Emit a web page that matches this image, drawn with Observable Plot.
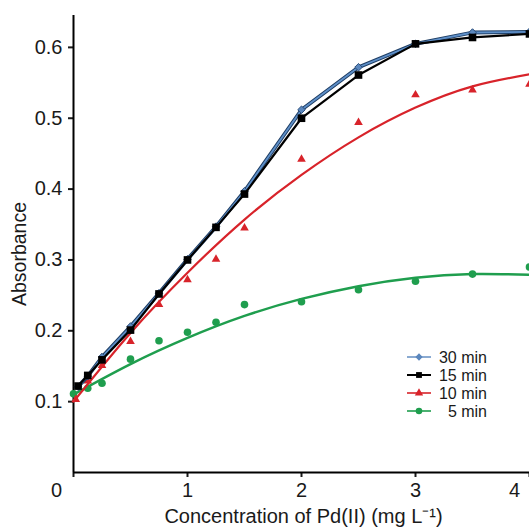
<!DOCTYPE html>
<html><head><meta charset="utf-8">
<script src="https://cdn.jsdelivr.net/npm/d3@7"></script>
<script src="https://cdn.jsdelivr.net/npm/@observablehq/plot@0.6"></script>
<style>
body{margin:0;background:#fff;}
#chart{position:relative;width:529px;height:530px;}
</style>
</head><body><div id="chart"></div>
<script>
// ---- data ----
const conc = [0.04, 0.125, 0.25, 0.5, 0.75, 1, 1.25, 1.5, 2, 2.5, 3, 3.5, 4];
const conc10 = [0.02, 0.125, 0.25, 0.5, 0.75, 1, 1.25, 1.5, 2, 2.5, 3, 3.5, 4];
const conc5 = [0, 0.125, 0.25, 0.5, 0.75, 1, 1.25, 1.5, 2, 2.5, 3, 3.5, 4];
const abs30 = [0.121, 0.136, 0.163, 0.206, 0.253, 0.301, 0.347, 0.397, 0.512, 0.572, 0.605, 0.621, 0.622];
const abs15 = [0.122, 0.137, 0.159, 0.201, 0.252, 0.300, 0.346, 0.393, 0.500, 0.561, 0.605, 0.614, 0.619];
const abs10 = [0.103, 0.129, 0.151, 0.185, 0.237, 0.272, 0.301, 0.345, 0.442, 0.494, 0.533, 0.540, 0.548];
const abs5 = [0.111, 0.119, 0.126, 0.160, 0.186, 0.198, 0.212, 0.237, 0.241, 0.258, 0.270, 0.280, 0.290];
// fitted trend curves
const fitConc = [0, 0.5, 1, 1.5, 2, 2.5, 3, 3.5, 4];
const fit10 = [0.100, 0.197, 0.282, 0.357, 0.420, 0.473, 0.515, 0.545, 0.562];
const fit5 = [0.110, 0.153, 0.190, 0.221, 0.245, 0.263, 0.275, 0.280, 0.279];
// ticks and labels
const xTicks = [0, 1, 2, 3, 4];
const yTicks = [0.1, 0.2, 0.3, 0.4, 0.5, 0.6];
const xLabel = "Concentration of Pd(II) (mg L\u207B\u00B9)";
const yLabel = "Absorbance";
const seriesNames = ["30 min", "15 min", "10 min", "5 min"];
const seriesColors = ["#4f7fb8", "#000000", "#d8232a", "#1f9e4e"];
const seriesSymbols = ["diamond2", "square", "triangle", "circle"];

const tbl = (xs, ys) => xs.map((x, i) => ({x, y: ys[i]}));
const d30 = tbl(conc, abs30), d15 = tbl(conc, abs15), d10 = tbl(conc10, abs10), d5 = tbl(conc5, abs5);
const f10 = tbl(fitConc, fit10), f5 = tbl(fitConc, fit5);

const font = "Liberation Sans, Arial, Helvetica, sans-serif";
const ink = "#1a1a1a";

const chart = Plot.plot({
  width: 529, height: 530,
  marginLeft: 73, marginRight: 0, marginTop: 15, marginBottom: 58,
  style: {fontFamily: font, color: ink, background: "#fff", overflow: "hidden"},
  x: {domain: [0, 4]},
  y: {domain: [0, 0.645]},
  marks: [
    Plot.axisY({ticks: yTicks, tickSize: 5, tickPadding: 6, fontSize: 20, tickFormat: d3.format(".1f"), label: null, strokeWidth: 2}),
    Plot.axisX({ticks: xTicks, tickSize: 5, tickFormat: () => "", label: null, strokeWidth: 2}),
    Plot.text(xTicks.filter(d => d > 0 && d < 4), {x: d => d, text: d => String(d), frameAnchor: "bottom", lineAnchor: "middle", dy: 18, fontSize: 20, fill: ink}),
    Plot.text(xTicks.filter(d => d === 0), {x: d => d, text: d => String(d), frameAnchor: "bottom", lineAnchor: "middle", dy: 18, dx: -17, fontSize: 20, fill: ink}),
    Plot.text(xTicks.filter(d => d === 4), {x: d => d, text: d => String(d), frameAnchor: "bottom", lineAnchor: "middle", dy: 18, dx: -15, fontSize: 20, fill: ink}),
    Plot.text([xLabel], {frameAnchor: "bottom", textAnchor: "middle", lineAnchor: "middle", dy: 44, dx: 2, fontSize: 20, fill: ink}),
    Plot.text([yLabel], {frameAnchor: "left", textAnchor: "middle", lineAnchor: "middle", rotate: -90, dx: -54, dy: 10, fontSize: 19.5, fill: ink}),
    Plot.ruleX([0], {strokeWidth: 2, stroke: "#000"}),
    Plot.ruleY([0], {strokeWidth: 2, stroke: "#000"}),
    // 5 min
    Plot.line(f5, {x: "x", y: "y", curve: "natural", stroke: seriesColors[3], strokeWidth: 2.5}),
    Plot.dot(d5, {x: "x", y: "y", symbol: "circle", r: 3.8, fill: seriesColors[3]}),
    // 10 min
    Plot.line(f10, {x: "x", y: "y", curve: "natural", stroke: seriesColors[2], strokeWidth: 2.2}),
    Plot.dot(d10, {x: "x", y: "y", symbol: "triangle", r: 3.2, fill: seriesColors[2]}),
    // 30 min
    Plot.line(d30, {x: "x", y: "y", stroke: "#1e3d63", strokeWidth: 3.8}),
    Plot.line(d30, {x: "x", y: "y", stroke: "#5e8fc8", strokeWidth: 1.8}),
    Plot.dot(d30, {x: "x", y: "y", symbol: "diamond2", r: 3.4, fill: "#5b87bd", stroke: "#2c4f7c", strokeWidth: 1}),
    // 15 min
    Plot.line(d15, {x: "x", y: "y", stroke: seriesColors[1], strokeWidth: 2.2}),
    Plot.dot(d15, {x: "x", y: "y", symbol: "square", r: 4.3, fill: seriesColors[1]})
  ]
});
document.getElementById("chart").appendChild(chart);

// legend overlay
const leg = d3.select("#chart").append("svg")
  .attr("width", 529).attr("height", 530)
  .style("position", "absolute").style("left", "0").style("top", "0")
  .style("font-family", font);
const symMap = {diamond2: d3.symbolDiamond2, square: d3.symbolSquare, triangle: d3.symbolTriangle, circle: d3.symbolCircle};
seriesNames.forEach((name, i) => {
  const g = leg.append("g").attr("transform", `translate(0,${357 + i * 18})`);
  g.append("line").attr("x1", 407).attr("x2", 431).attr("y1", 0).attr("y2", 0)
    .attr("stroke", i === 0 ? "#6d95c6" : seriesColors[i]).attr("stroke-width", i === 1 ? 2 : 1.6);
  g.append("path").attr("transform", "translate(419,0)")
    .attr("d", d3.symbol(symMap[seriesSymbols[i]], i === 2 ? 30 : 34)())
    .attr("fill", i === 0 ? "#5b87bd" : seriesColors[i]);
  g.append("text").attr("x", 487).attr("y", 0).attr("dy", "0.35em")
    .attr("text-anchor", "end").attr("font-size", 16).attr("fill", ink).text(name);
});
</script>
</body></html>
